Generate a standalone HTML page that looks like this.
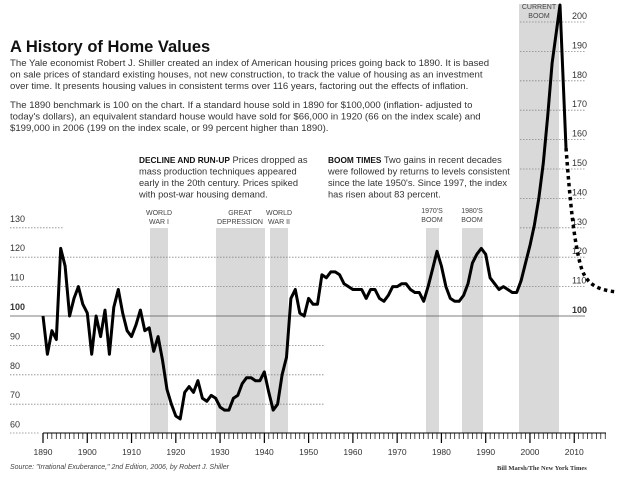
<!DOCTYPE html>
<html><head><meta charset="utf-8"><style>
html,body{margin:0;padding:0;background:#fff;}
svg text{font-family:"Liberation Sans",sans-serif;}
</style></head><body>
<svg id="s" width="620" height="474" xmlns="http://www.w3.org/2000/svg">
<rect width="620" height="474" fill="#fff"/>
<g fill="#d9d9d9">
<rect x="150" y="228" width="18" height="205"/>
<rect x="216" y="228" width="49" height="205"/>
<rect x="270" y="228" width="18" height="205"/>
<rect x="426" y="228" width="13" height="205"/>
<rect x="462" y="228" width="21" height="205"/>
<rect x="519" y="4" width="40" height="429"/>
</g>
<g id="grid" stroke="#888" stroke-width="0.8" stroke-dasharray="1.5,1.5"></g>
<line x1="10" y1="316" x2="585" y2="316" stroke="#555" stroke-width="0.8"/>
<g font-size="9" fill="#333" id="ylab"></g>
<g id="axis" stroke="#000" stroke-width="1"></g>
<g font-size="8.5" fill="#333" id="xlab" text-anchor="middle"></g>
<g font-size="7" fill="#444" text-anchor="middle">
<text x="159" y="215">WORLD</text><text x="159" y="224">WAR I</text>
<text x="240" y="215">GREAT</text><text x="240" y="224">DEPRESSION</text>
<text x="279" y="215">WORLD</text><text x="279" y="224">WAR II</text>
<text x="432" y="213">1970'S</text><text x="432" y="222">BOOM</text>
<text x="472" y="213">1980'S</text><text x="472" y="222">BOOM</text>
<text x="539" y="9">CURRENT</text><text x="539" y="18">BOOM</text>
</g>
<path id="line" fill="none" stroke="#000" stroke-width="3" stroke-linejoin="round"/>
<path d="M566,148 C570,200 574,245 582,270 C588,285 598,290 617,292" fill="none" stroke="#000" stroke-width="3.5" stroke-dasharray="3.5,3.5"/>
<text x="10" y="52" font-size="16.5" font-weight="bold" fill="#111">A History of Home Values</text>
<g font-size="9.6" fill="#333">
<text x="10" y="66">The Yale economist Robert J. Shiller created an index of American housing prices going back to 1890. It is based</text>
<text x="10" y="77.5">on sale prices of standard existing houses, not new construction, to track the value of housing as an investment</text>
<text x="10" y="89">over time. It presents housing values in consistent terms over 116 years, factoring out the effects of inflation.</text>
<text x="10" y="108">The 1890 benchmark is 100 on the chart. If a standard house sold in 1890 for $100,000 (inflation- adjusted to</text>
<text x="10" y="119.5">today's dollars), an equivalent standard house would have sold for $66,000 in 1920 (66 on the index scale) and</text>
<text x="10" y="131">$199,000 in 2006 (199 on the index scale, or 99 percent higher than 1890).</text>
</g>
<g font-size="9.3" fill="#333">
<text x="139" y="163"><tspan font-weight="bold" font-size="8.3" fill="#111">DECLINE AND RUN-UP</tspan>  Prices dropped as</text>
<text x="139" y="174.5">mass production techniques appeared</text>
<text x="139" y="186">early in the 20th century. Prices spiked</text>
<text x="139" y="197.5">with post-war housing demand.</text>
<text x="328" y="163"><tspan font-weight="bold" font-size="8.3" fill="#111">BOOM TIMES</tspan>  Two gains in recent decades</text>
<text x="328" y="174.5">were followed by returns to levels consistent</text>
<text x="328" y="186">since the late 1950's. Since 1997, the index</text>
<text x="328" y="197.5">has risen about 83 percent.</text>
</g>
<text x="10" y="469" font-size="7" font-style="italic" fill="#444">Source: "Irrational Exuberance," 2nd Edition, 2006, by Robert J. Shiller</text>
<text x="497" y="470" font-size="6.5" font-weight="bold" fill="#333" style="font-family:'Liberation Serif',serif">Bill Marsh/The New York Times</text>
</svg>
<script>
var NS="http://www.w3.org/2000/svg";
function X(y){return 43+(y-1890)*4.427}
function Y(v){return 316-(v-100)*2.94}
function el(p,t,a,txt){var e=document.createElementNS(NS,t);for(var k in a)e.setAttribute(k,a[k]);if(txt)e.textContent=txt;document.getElementById(p).appendChild(e);}
el("grid","line",{x1:10,x2:63,y1:Y(130),y2:Y(130)});
[120,110].forEach(v=>el("grid","line",{x1:10,x2:585,y1:Y(v),y2:Y(v)}));
[90,80,70].forEach(v=>el("grid","line",{x1:10,x2:324,y1:Y(v),y2:Y(v)}));
el("grid","line",{x1:10,x2:40,y1:433,y2:433});
[200,190,180,170,160,150,140,130].forEach(v=>el("grid","line",{x1:520,x2:585,y1:Y(v),y2:Y(v)}));
[130,120,110,100,90,80,70,60].forEach(v=>el("ylab","text",{x:10,y:Y(v)-6,"font-weight":v==100?"bold":"normal"},""+v));
[200,190,180,170,160,150,140,130,120,110,100].forEach(v=>el("ylab","text",{x:572,y:Y(v)-3,"font-weight":v==100?"bold":"normal"},""+v));
el("axis","line",{x1:43,x2:606,y1:433,y2:433});
for(var y=1890;y<=2017;y++){var h=(y%10==0)?10:6;el("axis","line",{x1:X(y),x2:X(y),y1:433,y2:433+h,"stroke-width":y%10==0?1.2:0.7});}
for(var y=1890;y<=2010;y+=10)el("xlab","text",{x:X(y),y:455},""+y);
var d=[100,87,95,92,123,117,100,106,110,104,101,87,100,93,102,87,103,109,101,95,93,97,102,95,96,88,93,85,75,70,66,65,74,76,74,78,72,71,73,72,69,68,68,72,73,77,79,79,78,78,81,74,68,70,80,86,106,109,101,100,106,104,104,114,113,115,115,114,111,110,109,109,109,106,109,109,106,105,107,110,110,111,111,109,108,108,105,110,116,122,117,110,106,105,105,107,111,118,121,123,121,113,111,109,110,109,108,108,112,118,124,131,140,152,168,186];
var p="";d.forEach((v,i)=>{p+=(i?"L":"M")+X(1890+i).toFixed(1)+","+Y(v).toFixed(1)});
p+="L560,5L566,148";
document.getElementById("line").setAttribute("d",p);
</script>
</body></html>
